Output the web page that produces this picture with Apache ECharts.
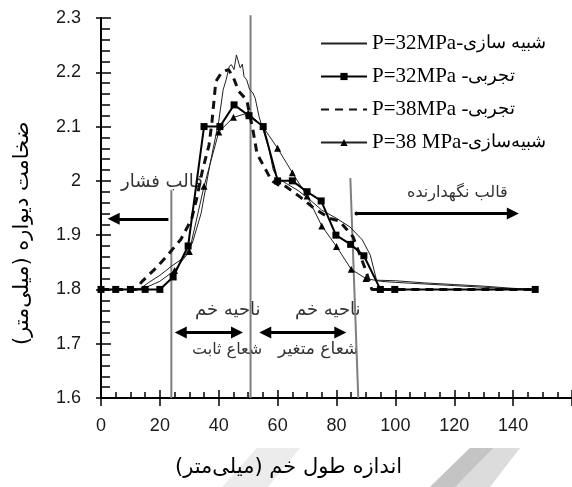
<!DOCTYPE html>
<html><head><meta charset="utf-8">
<script src="https://cdn.jsdelivr.net/npm/echarts@6/dist/echarts.min.js"></script>
<style>html,body{margin:0;padding:0;background:#fff}#c{width:572px;height:487px}</style>
</head><body><div id="c"></div>
<script>
// ---- data ----
const seriesNames = ['P=32MPa-شبیه سازی', 'P=32MPa -تجربی', 'P=38MPa -تجربی', 'P=38 MPa-شبیه‌سازی'];

const simP32X = [0,10,13,16,20,24,28,31,34,37,40,41.5,42.5,43.6,44.3,45.2,46,46.8,47.3,48,48.6,49.5,50.5,51.6,52.4,53.7,55,57,58.5,60,63,67,71,75,80,84.6,88.8,91.5,93.6,100,110,120,130,140,148];
const simP32Y = [1.8,1.8,1.8,1.812,1.826,1.843,1.858,1.885,1.94,2.03,2.11,2.168,2.186,2.211,2.214,2.205,2.232,2.217,2.208,2.215,2.192,2.186,2.168,2.162,2.152,2.118,2.095,2.06,2.02,2.005,1.995,1.982,1.965,1.946,1.931,1.915,1.891,1.863,1.817,1.816,1.812,1.809,1.806,1.802,1.8];

const expP32X = [0,5,10,15,20,24.5,29.6,35,40.4,45.2,50.3,55.1,60,65,70,74.8,79.8,84.8,89.3,94.9,99.8,147.5];
const expP32Y = [1.8,1.8,1.8,1.8,1.8,1.823,1.88,2.1,2.1,2.14,2.12,2.1,2.0,2.0,1.98,1.963,1.90,1.883,1.862,1.80,1.80,1.80];

const expP38X = [0,12,13.8,18.6,22.3,27.1,30.8,32.4,34.5,36.7,37.7,39,41,43.3,45,46.8,49.5,51.6,53,55,58,61,62.2,67.5,71.8,77.6,81,85.6,89.9,92,100,148];
const expP38Y = [1.8,1.8,1.814,1.839,1.861,1.892,1.93,1.965,2.02,2.066,2.109,2.183,2.2,2.205,2.19,2.165,2.149,2.094,2.05,2.03,2.0,1.99,1.992,1.971,1.952,1.931,1.926,1.897,1.836,1.8,1.8,1.8];

const simP38X = [0,5,10,15,20,25,30,35,40,45,50,55,60,65,70,75,80,85,90,95,100,110,120,130,140,148];
const simP38Y = [1.8,1.8,1.8,1.803,1.815,1.835,1.87,1.99,2.09,2.117,2.125,2.1,2.06,2.015,1.972,1.917,1.879,1.837,1.82,1.815,1.813,1.81,1.807,1.804,1.801,1.8];

const xTicks = [0,20,40,60,80,100,120,140];
const yTicks = [1.6,1.7,1.8,1.9,2.0,2.1,2.2,2.3];

// annotation geometry (data coordinates)
const dieLines = [ [[23.9,1.983],[23.9,1.6]], [[50.8,2.305],[50.8,1.6]], [[84.7,2.005],[87.4,1.6]] ];

const pair = (xs, ys) => xs.map((x, i) => [x, ys[i]]);

const chart = echarts.init(document.getElementById('c'), null, {renderer: 'canvas'});

const labelFont = 'Liberation Sans';
const faFont = 'DejaVu Sans';
const RLM = '\u200F';

function axisBase(extra) {
  return Object.assign({type: 'value', gridIndex: 0, splitLine: {show: false}}, extra);
}

const xMin = xTicks[0], xInt = xTicks[1] - xTicks[0];
const yMin = yTicks[0], yInt = +(yTicks[1] - yTicks[0]).toFixed(2);
const hidden = {color: 'rgba(0,0,0,0)', borderColor: 'rgba(0,0,0,0)', borderWidth: 0};

// left-aligned (start x) Persian text
function faText(x, y, text, size, color, extra) {
  return Object.assign({type: 'text', x: x, y: y, silent: true,
    style: {text: text, font: size + 'px "' + faFont + '"', fill: color, align: 'left', verticalAlign: 'middle'}}, extra || {});
}

const option = {
  animation: false,
  backgroundColor: '#fff',
  grid: {left: 101, right: -31, top: 18, bottom: 89, containLabel: false},
  xAxis: [
    axisBase({position: 'bottom', min: xMin, max: 160, interval: xInt,
      axisLine: {lineStyle: {color: '#000', width: 2}},
      axisTick: {inside: true, length: 8, lineStyle: {color: '#000', width: 1.5}},
      minorTick: {show: true, splitNumber: 4, length: 6, lineStyle: {color: '#000', width: 1.5}},
      axisLabel: {margin: 19, fontSize: 18, fontFamily: labelFont, color: '#1a1a1a', showMaxLabel: false}
    }),
    axisBase({position: 'bottom', min: xMin, max: 160, interval: xInt,
      axisLine: {show: false},
      axisTick: {inside: false, length: 8, lineStyle: {color: '#000', width: 1.5}},
      axisLabel: {show: false}
    })
  ],
  yAxis: [
    axisBase({position: 'left', min: yMin, max: yTicks[yTicks.length-1], interval: yInt,
      axisLine: {show: true, lineStyle: {color: '#000', width: 2}},
      axisTick: {show: true, inside: true, length: 10, lineStyle: {color: '#000', width: 1.5}},
      minorTick: {show: true, splitNumber: 5, length: 9, lineStyle: {color: '#000', width: 1.5}},
      axisLabel: {margin: 20, fontSize: 18, fontFamily: labelFont, color: '#1a1a1a'}
    }),
    axisBase({position: 'left', min: yMin, max: yTicks[yTicks.length-1], interval: yInt,
      axisLine: {show: false},
      axisTick: {show: true, inside: false, length: 5, lineStyle: {color: '#000', width: 1.5}},
      axisLabel: {show: false}
    })
  ],
  legend: {
    data: seriesNames.map((n, i) => (i === 0 || i === 2) ? {name: n, itemStyle: hidden} : n),
    orient: 'vertical', left: 315, top: 28,
    itemWidth: 46, itemHeight: 9, itemGap: 12,
    formatter: (name) => {
      const m = name.match(/^([^\u0600-\u06FF]*)([\s\S]*)$/);
      return '{a|' + m[1] + '}{b|' + m[2] + '}';
    },
    textStyle: {fontFamily: 'Liberation Serif', fontSize: 21, color: '#000',
      rich: {
        a: {fontFamily: 'Liberation Serif', fontSize: 21, color: '#000', lineHeight: 21},
        b: {fontFamily: 'Liberation Serif', fontSize: 18, color: '#000', lineHeight: 21}
      }
    },
    selectedMode: false
  },
  series: [
    {name: seriesNames[0], type: 'line', data: pair(simP32X, simP32Y), symbol: 'none', showSymbol: false,
      lineStyle: {color: '#222', width: 1}, itemStyle: {color: '#222'}, z: 3},
    {name: seriesNames[1], type: 'line', data: pair(expP32X, expP32Y), symbol: 'rect', symbolSize: 7, showSymbol: true,
      lineStyle: {color: '#000', width: 2}, itemStyle: {color: '#000'}, z: 5},
    {name: seriesNames[2], type: 'line', data: pair(expP38X, expP38Y), symbol: 'none', showSymbol: false,
      lineStyle: {color: '#111', width: 3, type: [8, 6]}, itemStyle: {color: '#111'}, z: 4},
    {name: seriesNames[3], type: 'line', data: pair(simP38X, simP38Y),
      symbol: 'triangle', symbolSize: (v) => (v[0] >= 25 && v[0] <= 90 ? 7 : 0), showSymbol: true,
      lineStyle: {color: '#222', width: 1}, itemStyle: {color: '#000'}, z: 3},
    ...dieLines.map((seg, i) => ({
      name: 'die' + i, type: 'line', data: seg, symbol: 'none', silent: true, clip: false,
      lineStyle: {color: '#7f7f7f', width: 2}, z: 2
    })),
    {name: 'arrows', type: 'line', data: [], silent: true,
      markLine: {silent: true, animation: false, label: {show: false},
        lineStyle: {color: '#000', width: 3, type: 'solid'},
        symbolSize: 12,
        data: [
          [{coord: [22.9, 1.93], symbol: 'none'}, {coord: [4.3, 1.93], symbol: 'triangle'}],
          [{coord: [86.8, 1.94], symbol: 'circle', symbolSize: 4}, {coord: [139.9, 1.94], symbol: 'triangle'}],
          [{coord: [27.1, 1.7207], symbol: 'triangle'}, {coord: [46.2, 1.7207], symbol: 'triangle'}],
          [{coord: [55.8, 1.7207], symbol: 'triangle'}, {coord: [81.3, 1.7207], symbol: 'triangle'}]
        ]
      }
    }
  ],
  graphic: [
    {type: 'polygon', shape: {points: [[257,448],[300,448],[268,487],[222,487]]}, style: {fill: '#ececec'}, z: -1, silent: true},
    {type: 'polygon', shape: {points: [[470,448],[520,448],[490,487],[430,487]]}, style: {fill: '#dcdcdc'}, z: -1, silent: true},
    {type: 'polygon', shape: {points: [[470,448],[493,448],[455,487],[430,487]]}, style: {fill: '#c4c4c4'}, z: -1, silent: true},
    faText(121, 182, 'قالب فشار', 18, '#333'),
    faText(407, 193, 'قالب نگهدارنده', 16, '#333'),
    faText(195, 310, 'ناحیه خم', 18, '#333'),
    faText(192, 350, 'شعاع ثابت', 16, '#333'),
    faText(295, 310, 'ناحیه خم', 18, '#333'),
    faText(278, 350, 'شعاع متغیر', 17, '#333'),
    faText(175, 468, 'اندازه طول خم (میلی‌متر)' + RLM, 21, '#000'),
    faText(23, 345, 'ضخامت دیواره (میلی‌متر)' + RLM, 21, '#000', {rotation: Math.PI / 2})
  ]
};
chart.setOption(option);
</script>
</body></html>
